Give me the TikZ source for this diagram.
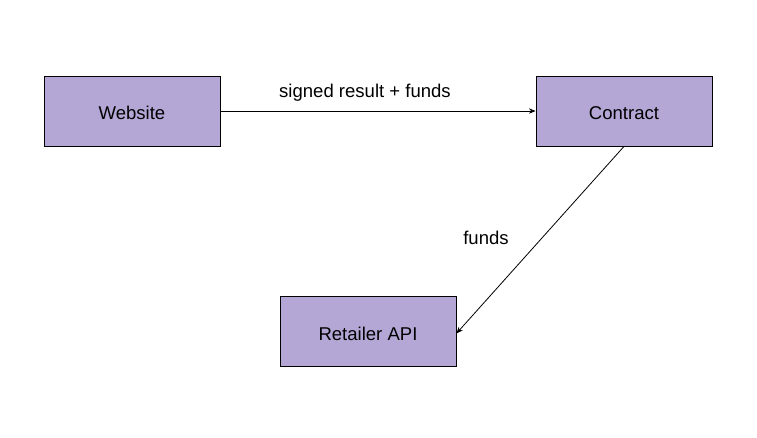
\documentclass[tikz,border=0pt]{standalone}
\usepackage{fontspec}
\setmainfont{Liberation Sans}
\usetikzlibrary{arrows.meta}
\definecolor{boxfill}{HTML}{B4A7D6}
\tikzset{
	box/.style={draw=black,line width=0.6pt,fill=boxfill,minimum width=132pt,minimum height=52.5pt,inner sep=0pt,text height=13pt,text depth=0pt,font=\fontsize{13.9}{16}\selectfont},
	flow/.style={line width=0.6pt,-{Stealth[length=5pt,width=4pt]}},
	lbl/.style={font=\fontsize{13.9}{16}\selectfont}
}
\begin{document}
\begin{tikzpicture}[x=0.75pt,y=-0.75pt]
			\useasboundingbox (0,0) rectangle (757,437);
			\coordinate (W) at (132,111);
			\coordinate (C) at (624,111);
			\coordinate (R) at (368,331.5);
			\node [box] (website) at (W) {Website};
			\node [box] (contract) at (C) {Contract};
			\node [box] (retailer) at (R) {Retailer API};
			\draw [flow] (website) to (contract);
			\draw [flow] (contract.south) to ([yshift=-1.5pt]retailer.east);
			\node [lbl] (sig) at (365,92.5) {signed result + funds};
			\node [lbl] (fnd) at (486,237.5) {funds};
		\end{tikzpicture}
\end{document}
